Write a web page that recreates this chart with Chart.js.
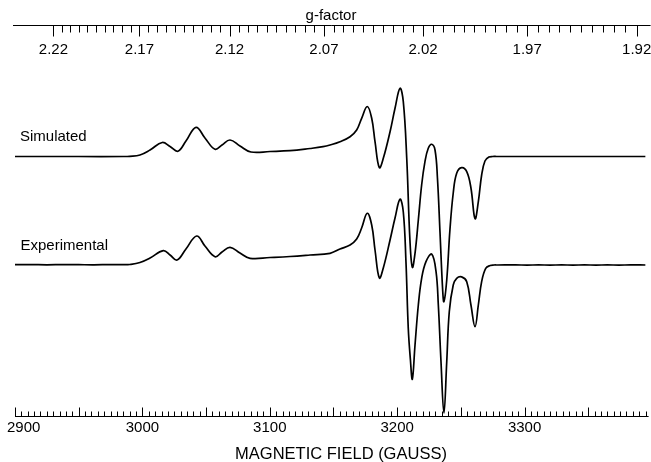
<!DOCTYPE html>
<html>
<head>
<meta charset="utf-8">
<script src="https://cdn.jsdelivr.net/npm/chart.js@4.4.0/dist/chart.umd.min.js"></script>
<style>
  html, body { margin: 0; padding: 0; background: #fff; }
  canvas { display: block; }
</style>
</head>
<body>
<canvas id="epr" width="651" height="462"></canvas>
<script>
'use strict';

// ── Data (field in gauss, signal in arbitrary units) ───────────
const fieldTicks = [2900, 3000, 3100, 3200, 3300];
const gTicks = [2.22, 2.17, 2.12, 2.07, 2.02, 1.97, 1.92];

const simField = [2900, 2950, 2985, 2990, 2998.1, 3006.0, 3015.6, 3021.7, 3027.9, 3034.2, 3042.1, 3049.1,
  3057.0, 3062.5, 3068.8, 3076.6, 3085.2, 3100.2, 3115.9, 3131.6, 3141.8, 3147.3,
  3155.1, 3163.0, 3168.2, 3172.1, 3176.5, 3180.0, 3182.6, 3186.0, 3189.1, 3194.4,
  3198.3, 3202.2, 3204.8, 3207.5, 3210.0, 3211.9, 3214.0, 3216.6, 3219.2, 3221.8,
  3224.4, 3227.1, 3229.7, 3231.6, 3233.6, 3235.7, 3236.7, 3238.9, 3241.4, 3244.0,
  3246.7, 3250.6, 3254.6, 3257.9, 3261.1, 3263.7, 3266.3, 3268.9, 3272.0, 3275,
  3278, 3300, 3340, 3395];
const simSignal = [0, 0, 0, 0.2, 1.5, 6.5, 14, 10, 5.3, 15.5, 29.2, 18.5,
  7.2, 11.5, 16.5, 10.5, 4.5, 5, 5.8, 8, 9.8, 11.5,
  14.8, 19.8, 26.5, 38.2, 50, 38.2, 14.8, -11.2, -1.8, 24.8,
  48.2, 68.2, 54.8, -1.8, -83.5, -110.8, -96.8, -63.5, -28.5, -5.2,
  8.2, 12.2, 6.5, -21.5, -75.5, -133.5, -145.2, -123.5, -73.5, -36.5,
  -16.8, -11.2, -15.2, -31.5, -62.2, -45.2, -18.5, -4.5, -0.6, 0,
  0, 0, 0, 0];

const expField = [2900, 2912, 2925, 2938, 2950, 2962, 2975, 2985, 2990, 2998.1, 3006.0,
  3016.4, 3021.7, 3027.2, 3034.2, 3042.6, 3049.1, 3057.0, 3062.5, 3068.8, 3076.6,
  3084.5, 3100.2, 3115.9, 3131.6, 3147.3, 3155.1, 3163.0, 3168.2, 3172.1, 3176.5,
  3180.0, 3182.6, 3186.0, 3189.1, 3194.4, 3198.3, 3202.2, 3204.8, 3206.9, 3208.7,
  3210.4, 3211.9, 3214.0, 3216.6, 3219.2, 3222.6, 3227.1, 3230.5, 3232.3, 3234.4,
  3236.7, 3238.9, 3240.9, 3244.0, 3246.7, 3250.6, 3254.6, 3257.9, 3261.1, 3263.7,
  3266.3, 3269.5, 3273.0, 3276, 3279, 3293, 3302, 3311, 3320, 3329, 3338,
  3347, 3356, 3365, 3374, 3383, 3395];
const expSignal = [0, 0.1, -0.1, 0.1, 0, -0.1, 0.1, 0, 0.2, 2.2, 6.7,
  14, 9.7, 4.7, 15.7, 28.7, 18.7, 8, 12.7, 17.4, 11.7,
  6.4, 7.2, 8.2, 9.7, 11.4, 15.7, 19.7, 25.7, 36.7, 51.4,
  39.7, 14.7, -13.3, -3.3, 24.7, 46.7, 65.5, 52.7, 2.7, -63.6,
  -95.3, -114.5, -80.3, -40.3, -13.6, 3, 10.5, -7, -40.3, -97,
  -148.3, -97, -47, -20.3, -13.6, -12.2, -17, -40.3, -62, -40.3,
  -17, -3.6, -0.8, -0.3, -0.3, -0.2, -0.4, -0.2, -0.4, -0.2, -0.4,
  -0.2, -0.4, -0.2, -0.4, -0.2, -0.3];

// ── Constants ──────────────────────────────────────────────────
const FIELD_MIN = 2900;
const FIELD_MAX = 3395;
const H_NU_OVER_MU_B = 6505;   // g = (h·ν / μB) / B, in gauss
const EXP_OFFSET = -108.2;     // vertical stacking of the experimental trace
const INK = '#000';
const FONT = '"Liberation Sans", Arial, Helvetica, sans-serif';

// ── Axes plugin (ticks point inward, top axis in g-factor) ─────
const eprAxes = {
  id: 'eprAxes',
  afterDraw(chart) {
    const { ctx, chartArea: a, scales: { x } } = chart;
    ctx.save();
    ctx.strokeStyle = INK;
    ctx.fillStyle = INK;
    ctx.lineWidth = 1;

    // bottom: magnetic field
    const yb = Math.round(a.bottom) + 0.5;
    ctx.beginPath();
    ctx.moveTo(a.left, yb);
    ctx.lineTo(a.right + 3, yb);
    for (let i = 0; FIELD_MIN + i * 5 <= FIELD_MAX; i++) {
      const px = Math.round(x.getPixelForValue(FIELD_MIN + i * 5)) + 0.5;
      const len = i % 10 === 0 ? 9 : 5;
      ctx.moveTo(px, yb);
      ctx.lineTo(px, yb - len);
    }
    ctx.stroke();

    ctx.font = '15px ' + FONT;
    ctx.textAlign = 'center';
    ctx.textBaseline = 'middle';
    fieldTicks.forEach(b => {
      const txt = String(b);
      const w = ctx.measureText(txt).width;
      const px = Math.max(x.getPixelForValue(b), 7 + w / 2);
      ctx.fillText(txt, px, a.bottom + 12);
    });
    ctx.font = '16.5px ' + FONT;
    ctx.fillText('MAGNETIC FIELD (GAUSS)', 341, 454);

    // top: g-factor
    const yt = Math.round(a.top) + 0.5;
    ctx.beginPath();
    ctx.moveTo(a.left - 2, yt);
    ctx.lineTo(a.right + 5, yt);
    for (let i = 0; ; i++) {
      const g = gTicks[0] - i * 0.005;
      const b = H_NU_OVER_MU_B / g;
      if (b > FIELD_MAX) break;
      const px = Math.round(x.getPixelForValue(b)) + 0.5;
      const len = i % 10 === 0 ? 11 : 7;
      ctx.moveTo(px, yt);
      ctx.lineTo(px, yt + len);
    }
    ctx.stroke();

    ctx.font = '15px ' + FONT;
    gTicks.forEach(g => {
      ctx.fillText(g.toFixed(2), x.getPixelForValue(H_NU_OVER_MU_B / g), a.top + 25);
    });
    ctx.fillText('g-factor', 331, 16);

    // trace labels
    ctx.textAlign = 'left';
    ctx.fillText('Simulated', 20, 137);
    ctx.fillText('Experimental', 20.5, 246);
    ctx.restore();
  }
};

// ── Chart ──────────────────────────────────────────────────────
const toPoints = (xs, ys, dy) => xs.map((b, i) => ({ x: b, y: ys[i] + dy }));

new Chart(document.getElementById('epr'), {
  type: 'line',
  data: {
    datasets: [
      {
        label: 'Simulated',
        data: toPoints(simField, simSignal, 0),
        borderColor: INK,
        borderWidth: 1.7,
        pointRadius: 0,
        tension: 0.4,
        fill: false
      },
      {
        label: 'Experimental',
        data: toPoints(expField, expSignal, EXP_OFFSET),
        borderColor: INK,
        borderWidth: 1.7,
        pointRadius: 0,
        tension: 0.4,
        fill: false
      }
    ]
  },
  options: {
    responsive: false,
    animation: false,
    layout: { padding: { left: 15, right: 5.4, top: 25, bottom: 46 } },
    scales: {
      x: { type: 'linear', min: FIELD_MIN, max: FIELD_MAX, display: false },
      y: { type: 'linear', min: -259.5, max: 131.5, display: false }
    },
    plugins: {
      legend: { display: false },
      tooltip: { enabled: false }
    }
  },
  plugins: [eprAxes]
});
</script>
</body>
</html>
